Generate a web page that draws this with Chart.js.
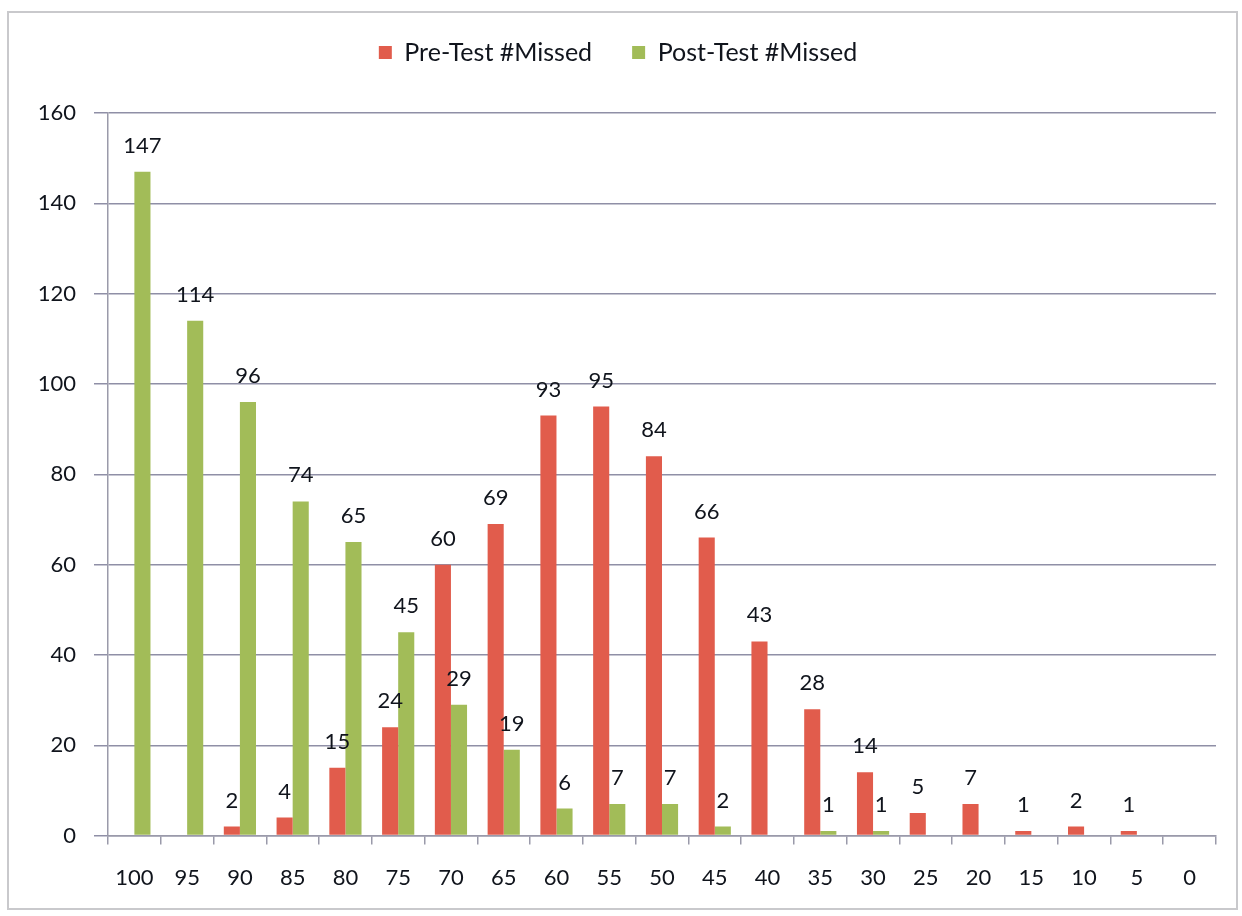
<!DOCTYPE html>
<html>
<head>
<meta charset="utf-8">
<script src="https://cdn.jsdelivr.net/npm/chart.js@4.4.1/dist/chart.umd.min.js"></script>
<style>
  html, body { margin: 0; padding: 0; background: #fff; }
  #wrap { position: relative; width: 1242px; height: 916px; }
</style>
</head>
<body>
<div id="wrap"><canvas id="missedChart"></canvas></div>
<script>
// score buckets along the x axis
const scores = ['100', '95', '90', '85', '80', '75', '70', '65', '60', '55', '50',
                '45', '40', '35', '30', '25', '20', '15', '10', '5', '0'];
const preMissed  = [0, 0, 2, 4, 15, 24, 60, 69, 93, 95, 84, 66, 43, 28, 14, 5, 7, 1, 2, 1, 0];
const postMissed = [147, 114, 96, 74, 65, 45, 29, 19, 6, 7, 7, 2, 0, 1, 1, 0, 0, 0, 0, 0, 0];
const yTicks = [0, 20, 40, 60, 80, 100, 120, 140, 160];

const textColor = '#10141c';
const fontFamily = 'Lato, "Open Sans", sans-serif';

// numbers above the bars (zero values get no label)
const barValues = {
    id: 'barValues',
    afterDatasetsDraw(chart) {
        const ctx = chart.ctx;
        ctx.save();
        ctx.font = '22px ' + fontFamily;
        ctx.fillStyle = textColor;
        ctx.textAlign = 'center';
        ctx.textBaseline = 'alphabetic';
        chart.data.datasets.forEach((ds, i) => {
            chart.getDatasetMeta(i).data.forEach((bar, j) => {
                const v = ds.data[j];
                if (!v) return;
                ctx.fillText(String(v), bar.x, bar.y - 19);
            });
        });
        ctx.restore();
    }
};

// thin frame round the whole chart
const frame = {
    id: 'frame',
    beforeDraw(chart) {
        const ctx = chart.ctx;
        ctx.save();
        ctx.strokeStyle = '#c9c9cc';
        ctx.lineWidth = 2;
        ctx.strokeRect(8, 12, 1229, 897);
        ctx.restore();
    }
};

new Chart(document.getElementById('missedChart'), {
    type: 'bar',
    data: {
        labels: scores,
        datasets: [
            {
                label: 'Pre-Test #Missed',
                data: preMissed,
                backgroundColor: '#e15c4c',
                categoryPercentage: 0.61,
                barPercentage: 1.0
            },
            {
                label: 'Post-Test #Missed',
                data: postMissed,
                backgroundColor: '#a2bc58',
                categoryPercentage: 0.61,
                barPercentage: 1.0
            }
        ]
    },
    options: {
        responsive: true,
        maintainAspectRatio: false,
        animation: false,
        layout: { padding: { top: 0, left: 20, right: 26, bottom: 5 } },
        plugins: {
            legend: {
                position: 'top',
                labels: {
                    font: { family: fontFamily, size: 25 },
                    color: textColor,
                    boxWidth: 13,
                    boxHeight: 13,
                    padding: 40
                }
            },
            tooltip: { enabled: false }
        },
        scales: {
            spacer: {
                type: 'category',
                position: 'top',
                labels: scores,
                grid: { display: false },
                border: { display: false },
                ticks: { display: false },
                afterFit: (scale) => { scale.height = 38; }
            },
            x: {
                grid: {
                    display: true,
                    drawOnChartArea: false,
                    drawTicks: true,
                    tickLength: 9,
                    offset: true,
                    color: '#9a9aaa',
                    lineWidth: 1.5
                },
                border: { color: '#9a9aaa', width: 1.5 },
                ticks: {
                    color: textColor,
                    font: { family: fontFamily, size: 22 },
                    padding: 20,
                    maxRotation: 0,
                    autoSkip: false
                }
            },
            y: {
                min: 0,
                max: 160,
                afterBuildTicks: (scale) => {
                    scale.ticks = yTicks.map(v => ({ value: v }));
                },
                afterFit: (scale) => { scale.width = 88; },
                grid: {
                    color: '#8f8fa6',
                    lineWidth: 1.5,
                    tickLength: 14
                },
                border: { color: '#9a9aaa', width: 1.5 },
                ticks: {
                    color: textColor,
                    font: { family: fontFamily, size: 22 },
                    padding: 18
                }
            }
        }
    },
    plugins: [frame, barValues]
});
</script>
</body>
</html>
